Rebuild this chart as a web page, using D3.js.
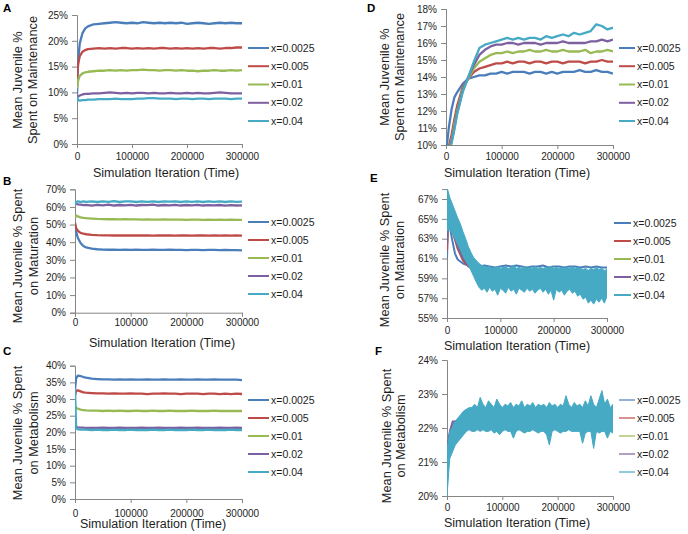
<!DOCTYPE html>
<html><head><meta charset="utf-8">
<script src="https://cdn.jsdelivr.net/npm/d3@7"></script>
<style>
body{margin:0;background:#fff;}
text{font-family:"Liberation Sans",Arial,sans-serif;}
</style>
</head><body>
<svg id="c" width="688" height="534"></svg>
<script>
// ---------- shared data ----------
const iters = [0,2000,5000,10000,15000,20000, 30000,40000,50000,60000,70000,80000,90000,100000,
  110000,120000,130000,140000,150000,160000,170000,180000, 190000,200000,210000,220000,230000,240000,250000,260000,
  270000,280000,290000,300000];
const itersFine = [0, 5000,10000,15000,20000,25000,30000,35000,40000,45000,50000,
  55000,60000,65000,70000,75000,80000,85000,90000,95000,100000,
  105000,110000,115000,120000,125000,130000,135000,140000,145000,150000,
  155000,160000,165000,170000,175000,180000,185000,190000,195000,200000,
  205000,210000,215000,220000,225000,230000,235000,240000,245000,250000,
  255000,260000,265000,270000,275000,280000,285000,290000,295000,300000];
const seriesNames = ["x=0.0025","x=0.005","x=0.01","x=0.02","x=0.04"];
const seriesColors = ["#4A7EBB","#BE4B48","#98B954","#7D60A0","#46AAC5"];
const xTicks = [0,100000,200000,300000];

// ---------- A: maintenance ----------
const ticksA = [0,5,10,15,20,25];
const aBlue = [9.6,16.0,19.5,21.5,22.4,22.8, 23.2,23.3,23.4,23.5,23.6,23.5,23.4,23.5, 23.4,23.6,23.5,23.4,23.5,23.4,23.5,23.4, 23.5,23.3,23.4,23.5,23.4,23.3,23.4,23.5, 23.4,23.5,23.4,23.4];
const aRed = [12.8,15.5,17.0,17.9,18.2,18.4, 18.5,18.6,18.5,18.6,18.5,18.6,18.6,18.5, 18.6,18.5,18.6,18.5,18.6,18.6,18.5,18.6, 18.5,18.6,18.5,18.6,18.5,18.6,18.6,18.5, 18.6,18.6,18.7,18.7];
const aGreen = [10.8,12.3,13.2,13.7,13.9,14.0, 14.1,14.2,14.2,14.3,14.2,14.3,14.2,14.3, 14.3,14.4,14.3,14.3,14.2,14.3,14.3,14.2, 14.3,14.2,14.2,14.1,14.2,14.2,14.3,14.2, 14.2,14.3,14.2,14.3];
const aPurple = [9.0,9.2,9.4,9.6,9.7,9.7, 9.8,9.8,9.9,10.0,9.9,9.8,9.9,9.8, 9.9,9.9,9.8,9.9,9.8,9.8,9.9,9.8, 9.8,9.9,9.8,9.9,9.8,9.8,9.9,10.0, 9.9,9.8,9.8,9.8];
const aCyan = [9.2,8.5,8.4,8.5,8.5,8.6, 8.6,8.7,8.7,8.7,8.8,8.7,8.7,8.7, 8.8,8.8,8.9,8.9,8.8,8.8,8.8,8.7, 8.8,8.8,8.7,8.8,8.8,8.7,8.8,8.8, 8.8,8.7,8.8,8.8];

// ---------- B: maturation ----------
const ticksB = [0,10,20,30,40,50,60,70];
const bBlue = [50.0,46.0,42.5,39.5,37.8,37.0, 36.3,36.0,35.8,35.7,35.7,35.6,35.7,35.6, 35.7,35.6,35.6,35.7,35.6,35.6,35.7,35.6, 35.6,35.5,35.6,35.6,35.5,35.6,35.6,35.5, 35.6,35.5,35.5,35.4];
const bRed = [51.0,48.0,46.5,45.3,44.8,44.5, 44.2,44.0,43.9,43.9,43.8,43.9,43.8,43.8, 43.9,43.8,43.8,43.7,43.8,43.8,43.8,43.7, 43.8,43.8,43.7,43.8,43.8,43.7,43.8,43.7, 43.8,43.7,43.8,43.7];
const bGreen = [54.0,55.2,54.6,54.1,53.8,53.6, 53.4,53.2,53.1,53.0,53.0,52.9,53.0,52.9, 52.9,52.8,52.9,52.8,52.8,52.9,52.8,52.8, 52.8,52.7,52.8,52.8,52.7,52.8,52.7,52.8, 52.7,52.8,52.7,52.7];
const bPurple = [62.0,61.8,61.5,61.3,61.0,61.2, 60.8,61.2,60.9,61.3,60.8,61.1,60.9,61.2, 60.8,61.1,61.0,61.3,60.8,61.1,60.9,61.2, 60.8,61.1,60.9,61.2,60.8,61.0,60.9,61.1, 60.7,61.0,60.8,60.9];
const bCyan = [61.0,62.8,63.1,62.8,63.2,62.9, 63.2,62.8,63.2,62.9,63.3,62.8,63.1,63.2, 62.8,63.2,62.9,63.2,62.8,63.1,63.0,63.2, 62.8,63.1,62.9,63.2,62.8,63.1,62.9,63.2, 62.8,63.1,62.9,63.0];

// ---------- C: metabolism ----------
const ticksC = [0,5,10,15,20,25,30,35,40];
const cBlue = [33.0,36.2,37.0,36.9,36.6,36.4, 36.1,36.0,35.9,35.9,35.8,35.9,35.8,35.9, 35.8,35.8,35.9,35.8,35.8,35.9,35.8,35.8, 35.9,35.8,35.8,35.9,35.8,35.8,35.9,35.8, 35.8,35.8,35.8,35.7];
const cRed = [31.0,32.5,32.6,32.3,32.0,31.9, 31.8,31.7,31.7,31.6,31.7,31.6,31.6,31.7, 31.6,31.6,31.5,31.6,31.6,31.7,31.6,31.6, 31.5,31.6,31.6,31.6,31.5,31.6,31.6,31.5, 31.6,31.5,31.6,31.5];
const cGreen = [28.0,27.3,27.1,26.8,26.7,26.6, 26.5,26.5,26.4,26.5,26.4,26.5,26.4,26.4, 26.5,26.4,26.4,26.5,26.4,26.4,26.5,26.4, 26.4,26.4,26.5,26.4,26.4,26.4,26.5,26.4, 26.4,26.4,26.4,26.4];
const cPurple = [24.0,21.6,21.5,21.4,21.4,21.3, 21.3,21.3,21.4,21.3,21.3,21.4,21.3,21.3, 21.3,21.4,21.3,21.3,21.4,21.3,21.3,21.3, 21.4,21.3,21.3,21.4,21.3,21.3,21.3,21.4, 21.3,21.3,21.4,21.3];
const cCyan = [33.0,21.2,20.9,20.8,20.8,20.8, 20.7,20.8,20.7,20.7,20.8,20.7,20.7,20.8, 20.7,20.7,20.7,20.8,20.7,20.7,20.8,20.7, 20.7,20.7,20.8,20.7,20.7,20.8,20.7,20.7, 20.7,20.8,20.7,20.7];

// ---------- D: maintenance (second scenario) ----------
const ticksD = [10,11,12,13,14,15,16,17,18];
const dBlue = [9.6,10.1,11.0,12.1,12.8,13.1, 13.6,13.9,14.0,14.1,14.1,14.2,14.2,14.3, 14.2,14.3,14.3,14.3,14.2,14.3,14.3,14.2, 14.3,14.2,14.3,14.3,14.3,14.4,14.3,14.3, 14.4,14.3,14.3,14.2];
const dRed = [9.2,9.5,9.9,10.6,11.5,12.3, 13.4,13.9,14.3,14.5,14.6,14.7,14.8,14.8, 14.9,14.8,14.9,14.9,14.8,14.9,14.9,14.8, 14.9,14.9,14.8,14.9,14.9,14.9,14.8,14.9, 14.9,15.0,14.9,14.9];
const dGreen = [9.0,9.3,9.7,10.3,11.2,12.0, 13.3,13.9,14.5,14.9,15.1,15.3,15.4,15.4, 15.5,15.4,15.5,15.5,15.6,15.5,15.5,15.6, 15.5,15.5,15.6,15.5,15.5,15.5,15.6,15.4, 15.5,15.5,15.6,15.5];
const dPurple = [8.9,9.2,9.6,10.2,11.0,11.9, 13.2,14.0,14.7,15.3,15.6,15.8,15.9,15.9, 16.0,16.0,15.9,16.0,16.0,16.0,15.9,16.0, 16.0,16.0,16.1,16.0,16.0,16.0,16.0,16.1, 16.1,16.2,16.1,16.2];
const dCyan = [8.8,9.1,9.5,10.1,10.9,11.8, 13.1,14.0,14.9,15.7,15.9,16.0,16.1,16.2, 16.3,16.2,16.3,16.2,16.3,16.3,16.2,16.4, 16.3,16.4,16.5,16.4,16.6,16.5,16.6,16.7, 17.1,17.0,16.8,16.9];

// ---------- E: maturation (second scenario) ----------
const ticksE = [55,57,59,61,63,65,67];
const eBlue = [61.0,64.8,64.3,62.8,61.5,60.9, 60.5,60.3,60.2,60.2,60.3,60.2,60.1,60.2, 60.3,60.2,60.3,60.2,60.1,60.2,60.2,60.3, 60.1,60.2,60.2,60.1,60.2,60.2,60.1,60.2, 60.1,60.2,60.1,60.1];
const eRed = [61.8,64.9,64.7,63.8,62.9,62.0, 60.8,60.2,60.0,59.9,59.9,59.8,59.9,59.8, 59.9,59.9,59.8,59.8,59.9,59.8,59.8,59.9, 59.8,59.7,59.8,59.8,59.7,59.8,59.7,59.6, 59.7,59.7,59.6,59.6];
const eGreen = [63.0,65.2,65.0,64.2,63.3,62.5, 61.2,60.4,59.9,59.8,59.7,59.7,59.7,59.6, 59.7,59.6,59.7,59.6,59.6,59.7,59.6,59.6, 59.6,59.5,59.6,59.6,59.5,59.6,59.5,59.4, 59.4,59.5,59.4,59.4];
const ePurple = [62.5,65.0,64.9,64.0,63.1,62.3, 61.0,60.3,59.8,59.7,59.6,59.6,59.6,59.5, 59.6,59.5,59.6,59.5,59.5,59.6,59.5,59.5, 59.5,59.4,59.5,59.5,59.4,59.4,59.4,59.3, 59.0,59.3,59.3,59.2];
// x=0.04 is very noisy: its upper and lower envelope, read every 5000 iterations
const eCyanHi = [68.2, 67.2,66.5,65.8,65.1,64.5,63.7,63.0,62.2,61.6,61.1, 60.8,60.5,60.3,60.2,60.1,60.2,60.0,60.1,60.2,60.0, 60.1,60.2,60.0,60.1,60.3,60.0,60.1,60.0,60.2,60.0, 60.1,60.0,60.2,60.0,60.1,60.0,60.1,60.0,60.2,60.0, 60.1,60.0,60.1,60.0,60.1,60.0,60.2,60.0,60.1,60.0, 59.9,60.0,59.8,60.0,59.9,60.1,59.9,60.0,59.8,59.9];
const eCyanLo = [63.8, 63.9,63.5,63.0,62.4,61.9,61.3,60.8,60.3,59.8,59.2, 58.6,58.1,57.8,58.0,57.6,58.1,57.7,57.9,57.3,58.0, 57.8,57.5,58.1,57.7,57.9,57.4,58.0,57.8,57.6,58.0, 57.7,57.9,57.5,57.8,58.0,57.6,57.9,57.4,57.8,56.8, 57.9,57.6,57.8,57.3,57.7,57.9,57.5,57.7,57.2,57.4, 56.9,57.1,56.5,56.8,56.4,56.9,56.6,57.0,56.5,57.2];

// ---------- F: metabolism (second scenario) ----------
const ticksF = [20,21,22,23,24];
const fBlue = [20.5,21.6,21.9,22.1,22.2,22.2, 22.3,22.3,22.3,22.4,22.3,22.3,22.3,22.3, 22.3,22.3,22.4,22.3,22.3,22.3,22.3,22.3, 22.3,22.4,22.3,22.3,22.3,22.3,22.4,22.3, 22.3,22.3,22.3,22.3];
const fRed = [20.8,21.3,21.7,22.0,22.1,22.2, 22.2,22.1,22.1,22.1,22.1,22.1,22.2,22.1, 22.1,22.1,22.1,22.1,22.1,22.1,22.1,22.1, 22.1,22.1,22.1,22.1,22.1,22.1,22.1,22.1, 22.1,22.1,22.1,22.1];
const fGreen = [20.5,21.4,21.8,22.0,22.1,22.2, 22.3,22.3,22.3,22.3,22.3,22.3,22.3,22.3, 22.3,22.3,22.3,22.3,22.3,22.3,22.3,22.3, 22.3,22.3,22.3,22.3,22.3,22.3,22.3,22.3, 22.3,22.3,22.3,22.3];
const fPurple = [20.6,21.5,21.9,22.2,22.2,22.2, 22.3,22.3,22.3,22.3,22.3,22.3,22.3,22.3, 22.3,22.3,22.3,22.3,22.3,22.3,22.3,22.3, 22.3,22.3,22.3,22.3,22.3,22.3,22.3,22.3, 22.3,22.3,22.3,22.3];
const fCyanHi = [21.3, 21.9,22.0,22.2,22.3,22.4,22.5,22.55,22.6,22.6,22.7, 22.6,22.9,22.7,22.6,22.8,22.7,22.6,22.85,22.7,22.6, 22.7,22.65,22.75,22.6,22.7,22.65,22.8,22.6,22.7,22.65, 22.75,22.6,22.7,22.65,22.7,22.6,22.75,22.65,22.7,22.6, 22.7,22.65,22.95,22.7,22.6,22.75,22.65,22.7,22.6,22.8, 22.65,22.95,22.7,22.6,22.85,23.1,22.7,22.85,22.6,22.7];
const fCyanLo = [20.0, 21.1,21.3,21.5,21.6,21.7,21.8,21.9,21.95,21.9,21.9, 21.95,21.9,21.95,21.9,21.9,21.95,21.85,21.9,21.8,21.9, 21.95,21.9,21.9,21.7,21.9,21.95,21.9,21.85,21.9,21.9, 21.95,21.9,21.85,21.9,21.9,21.8,21.5,21.9,21.95,21.9, 21.85,21.9,21.9,21.95,21.9,21.9,21.9,21.9,21.55,21.85, 21.9,21.9,21.4,21.9,21.85,21.9,21.9,21.7,21.9,21.85];

// ---------- layout ----------
const panels = [
  {label:"A", lx:3, ly:11.7, yTitle:["Mean Juvenile %","Spent on Maintenance"], tX:[21.7,36.7], tY:80,
   left:77, right:242, top:15, bottom:144, yDomain:[0,25], yTicks:ticksA, tickBase:159.5, titleBase:176.5, titleX:166,
   legX:248, legLen:21, legRows:[48,66.2,84.5,102.8,121], series:[aBlue,aRed,aGreen,aPurple,aCyan], lw:2.3, legLW:2},
  {label:"B", lx:3, ly:184.5, yTitle:["Mean Juvenile % Spent","on Maturation"], tX:[21.7,38], tY:256,
   left:75, right:242, top:189.3, bottom:312.7, yDomain:[0,70], yTicks:ticksB, tickBase:326.5, titleBase:347, titleX:162,
   legX:248, legLen:21, legRows:[222,240,258,276,294], series:[bBlue,bRed,bGreen,bPurple,bCyan], lw:2.3, legLW:2},
  {label:"C", lx:3, ly:355, yTitle:["Mean Juvenile % Spent","on Metabolism"], tX:[21.7,38], tY:433,
   left:75, right:242, top:365.7, bottom:499, yDomain:[0,40], yTicks:ticksC, tickBase:516.5, titleBase:528, titleX:153,
   legX:248, legLen:21, legRows:[400,418,436,454,472], series:[cBlue,cRed,cGreen,cPurple,cCyan], lw:2.3, legLW:2},
  {label:"D", lx:367, ly:11.7, yTitle:["Mean Juvenile %","Spent on Maintenance"], tX:[389,404], tY:77,
   left:446, right:613, top:9, bottom:145, yDomain:[10,18], yTicks:ticksD, tickBase:159.5, titleBase:176.5, titleX:517,
   legX:619, legLen:16, legRows:[48,66.2,84.5,102.8,121], series:[dBlue,dRed,dGreen,dPurple,dCyan], lw:2.3, legLW:2},
  {label:"E", lx:370, ly:182, yTitle:["Mean Juvenile % Spent","on Maturation"], tX:[389,404], tY:260,
   left:447, right:607, top:189.1, bottom:318, yDomain:[55,68], yTicks:ticksE, tickBase:334, titleBase:349.5, titleX:517,
   legX:614, legLen:17, legRows:[223,241,259,277,295], series:[eBlue,eRed,eGreen,ePurple,null], band:[eCyanHi,eCyanLo], lw:2, legLW:2},
  {label:"F", lx:375, ly:355, yTitle:["Mean Juvenile % Spent","on Metabolism"], tX:[390.5,405], tY:436,
   left:447, right:613, top:360, bottom:496, yDomain:[20,24], yTicks:ticksF, tickBase:510.5, titleBase:527, titleX:517,
   legX:619, legLen:16, legRows:[400,418,436,454,472], series:[fBlue,fRed,fGreen,fPurple,null], band:[fCyanHi,fCyanLo], lw:1.6, legLW:1.2}
];

const svg = d3.select("#c");
const axisColor = "#868686";
const textColor = "#1e1e1e";

panels.forEach((p, pi) => {
  const x = d3.scaleLinear().domain([0,300000]).range([p.left, p.right]);
  const y = d3.scaleLinear().domain(p.yDomain).range([p.bottom, p.top]);
  const g = svg.append("g");

  // clip
  const cid = "clip" + pi;
  svg.append("clipPath").attr("id", cid).append("rect")
    .attr("x", p.left).attr("y", p.top).attr("width", p.right - p.left).attr("height", p.bottom - p.top);

  // y axis
  const ya = g.append("g").attr("transform", `translate(${p.left},0)`)
    .call(d3.axisLeft(y).tickValues(p.yTicks).tickSize(5).tickPadding(4).tickFormat(d => d + "%"));
  // x axis
  const xa = g.append("g").attr("transform", `translate(0,${p.bottom})`)
    .call(d3.axisBottom(x).tickValues(xTicks).tickSize(4).tickFormat(d3.format("d")));
  [ya, xa].forEach(a => {
    a.select(".domain").attr("stroke", axisColor);
    a.selectAll(".tick line").attr("stroke", axisColor);
    a.selectAll("text").attr("fill", textColor).style("font-size", "10px");
  });
  xa.selectAll(".tick text").attr("y", p.tickBase - p.bottom).attr("dy", null);

  // series
  const plot = g.append("g").attr("clip-path", `url(#${cid})`);
  const line = d3.line().x(d => x(d[0])).y(d => y(d[1]));
  p.series.forEach((s, i) => {
    if (!s) return;
    plot.append("path").datum(d3.zip(iters, s))
      .attr("fill", "none").attr("stroke", seriesColors[i]).attr("stroke-width", p.lw)
      .attr("stroke-linejoin", "round").attr("d", line);
  });
  if (p.band) {
    const area = d3.area().x(d => x(d[0])).y0(d => y(d[2])).y1(d => y(d[1]));
    plot.append("path").datum(d3.zip(itersFine, p.band[0], p.band[1]))
      .attr("fill", seriesColors[4]).attr("stroke", seriesColors[4]).attr("stroke-width", 1)
      .attr("d", area);
  }

  // legend
  seriesNames.forEach((n, i) => {
    const ry = p.legRows[i];
    g.append("line").attr("x1", p.legX).attr("x2", p.legX + p.legLen).attr("y1", ry).attr("y2", ry)
      .attr("stroke", seriesColors[i]).attr("stroke-width", p.legLW);
    g.append("text").attr("x", p.legX + p.legLen + 2).attr("y", ry).attr("dy", "0.35em")
      .attr("fill", textColor).style("font-size", "10.5px").text(n);
  });

  // axis titles
  g.append("text").attr("x", p.titleX).attr("y", p.titleBase).attr("text-anchor", "middle")
    .attr("fill", textColor).style("font-size", "12.5px").text("Simulation Iteration (Time)");
  p.yTitle.forEach((t, i) => {
    g.append("text").attr("transform", `translate(${p.tX[i]},${p.tY}) rotate(-90)`)
      .attr("text-anchor", "middle").attr("fill", textColor).style("font-size", "12.8px").text(t);
  });

  // panel letter
  g.append("text").attr("x", p.lx).attr("y", p.ly).attr("fill", "#000")
    .style("font-size", "11.5px").style("font-weight", "bold").text(p.label);
});
</script>
</body></html>
